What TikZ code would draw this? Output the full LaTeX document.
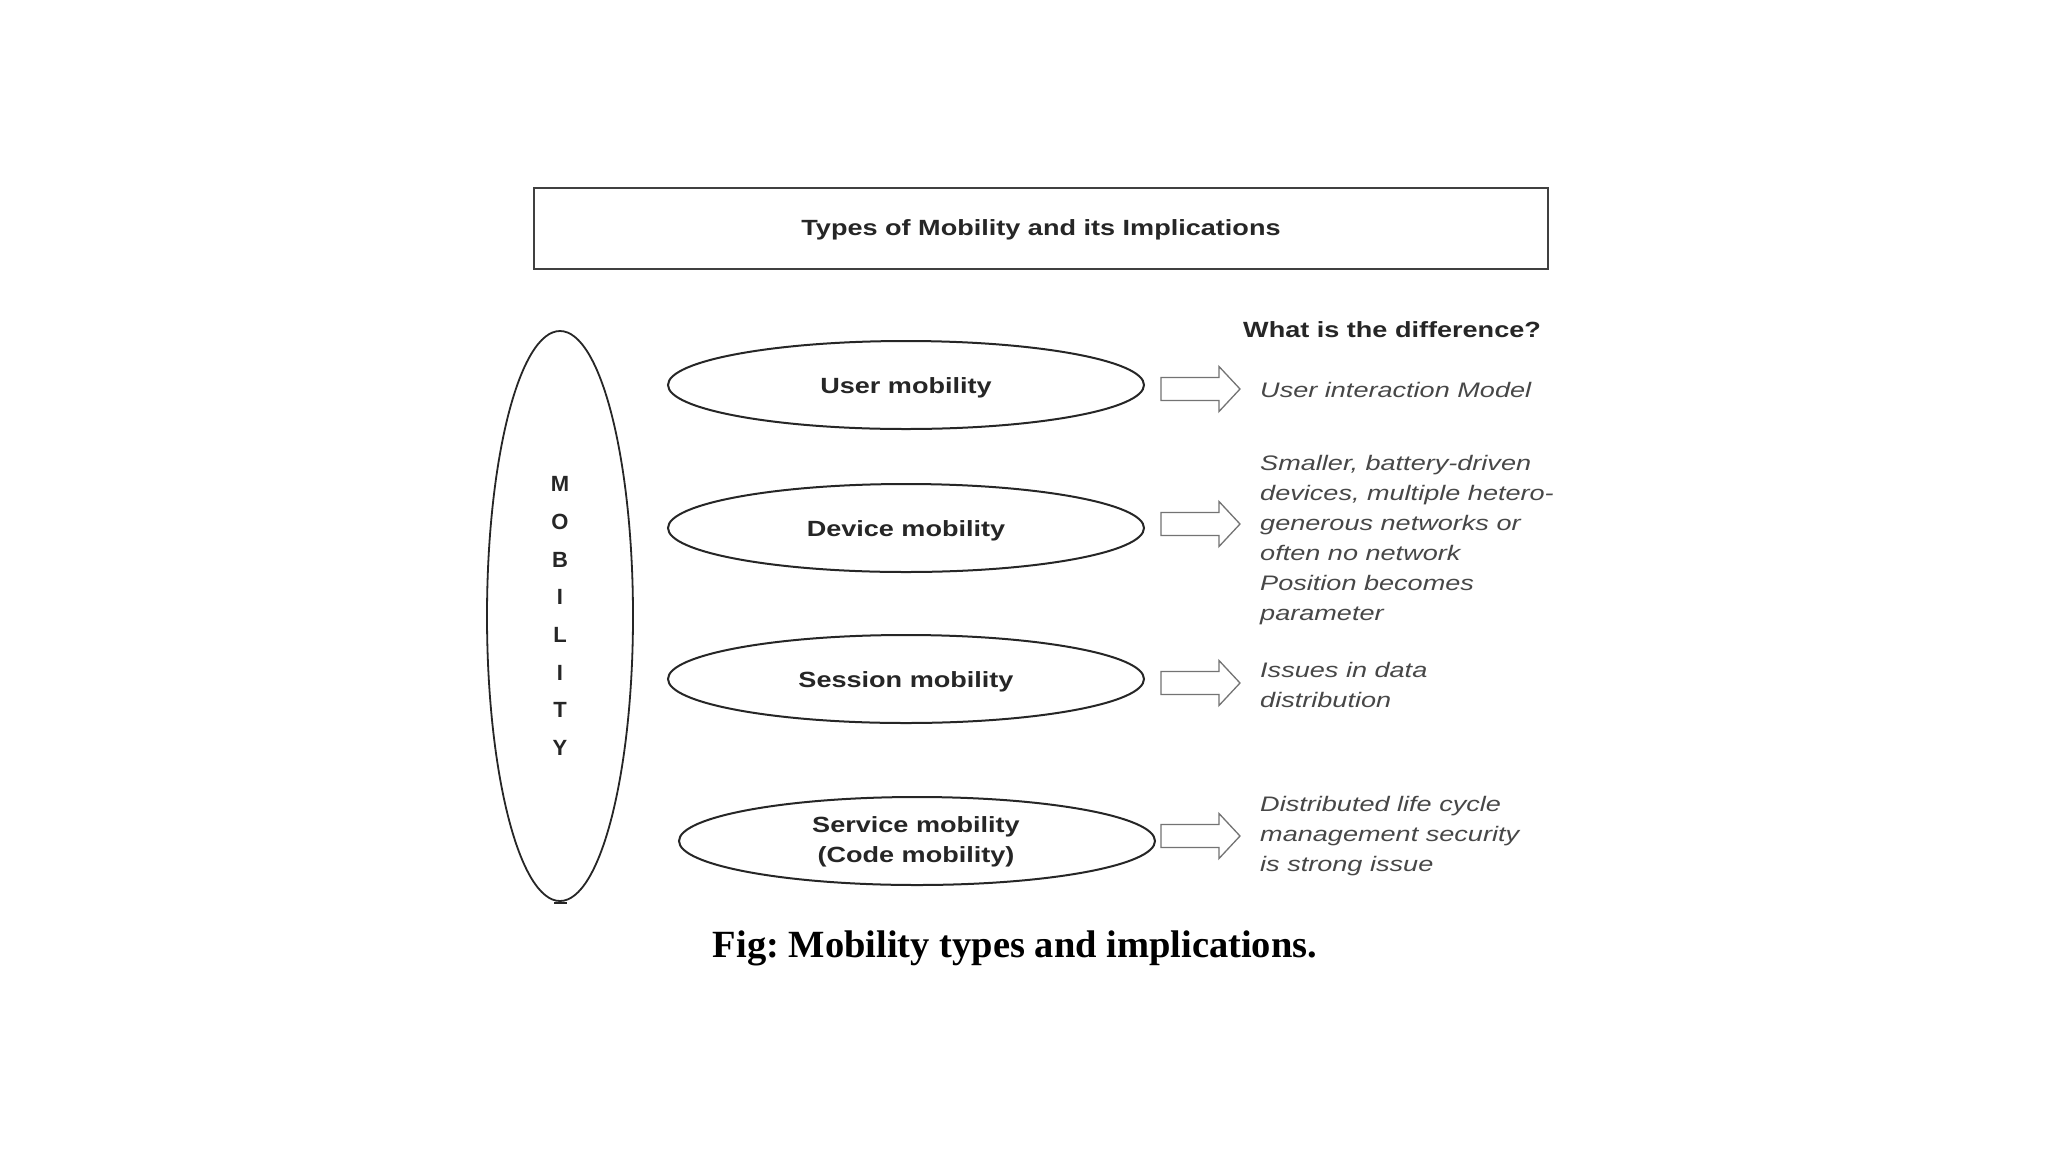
\documentclass[tikz,border=0pt]{standalone}
\usepackage{fontspec}
\setmainfont{Liberation Sans}
\newfontfamily\capfont{Liberation Serif}
\newfontfamily\widefont[FakeStretch=1.23]{Liberation Sans}
\newfontfamily\notefont[FakeStretch=1.29]{Liberation Sans}
\usetikzlibrary{shapes.geometric}
\frenchspacing
\begin{document}
\begin{tikzpicture}[x=1pt,y=-1pt,
  every node/.style={inner sep=0pt},
  lbl/.style={font=\widefont\fontsize{22}{30}\selectfont\bfseries, text=black!85, align=center},
  mobell/.style={draw=black!85, line width=2pt, ellipse, minimum width=476pt, minimum height=88pt},
  note/.style={font=\notefont\fontsize{21}{30}\selectfont\itshape, text=black!72, align=left, anchor=west},
  blockarr/.style={draw=black!55, line width=1.3pt, fill=white},
  pics/barrow/.style={code={\draw[blockarr] (0,-11.5) -- (58,-11.5) -- (58,-22.5) -- (79,0) -- (58,22.5) -- (58,11.5) -- (0,11.5) -- cycle;}}
]
\useasboundingbox[fill=white] (0,0) rectangle (2048,1152);

% title
\node[draw=black!75, line width=2.5pt, minimum width=1014pt, minimum height=81pt] (title) at (1041,228.5) {};
\node[font=\widefont\fontsize{22}{26}\selectfont\bfseries, text=black!85] (titletxt) at (1041,230)
      {Types of Mobility and its Implications};

% big MOBILITY ellipse
\node[draw=black!85, line width=1.8pt, ellipse, minimum width=146pt, minimum height=570pt] (mob) at (560,616) {};
\node[font=\fontsize{22}{37.7}\selectfont\bfseries, text=black!85, align=center] (mobtxt) at (560,616)
  {M\\O\\B\\I\\L\\I\\T\\Y};
\draw[black!85, line width=2.5pt] (554,903) -- (567,903);

% mobility types
\node[mobell] (user) at (906,385) {};
\node[mobell] (device) at (906,528) {};
\node[mobell] (session) at (906,679) {};
\node[mobell] (service) at (917,841) {};
\node[lbl] (userlbl) at (906,388) {User mobility};
\node[lbl] (devicelbl) at (906,531) {Device mobility};
\node[lbl] (sessionlbl) at (906,682) {Session mobility};
\node[lbl] (servicelbl) at (916,842) {Service mobility\\(Code mobility)};

% arrows
\pic at (1161,389) {barrow};
\pic at (1161,524) {barrow};
\pic at (1161,683) {barrow};
\pic at (1161,836) {barrow};

% notes
\node[font=\widefont\fontsize{22}{26}\selectfont\bfseries, text=black!85, anchor=west] (diff) at (1243,330) {What is the difference?};
\node[note] (n1) at (1260,390) {User interaction Model};
\node[note] (n2) at (1260,540.5) {Smaller, battery-driven\\devices, multiple hetero-\\generous networks or\\often no network\\Position becomes\\parameter};
\node[note] (n3) at (1260,685) {Issues in data\\distribution};
\node[note] (n4) at (1260,836) {Distributed life cycle\\management security\\is strong issue};

% caption
\node[font=\capfont\bfseries\fontsize{38.5}{44}\selectfont, text=black] (cap) at (1015,948) {Fig: Mobility types and implications.};
\end{tikzpicture}
\end{document}
